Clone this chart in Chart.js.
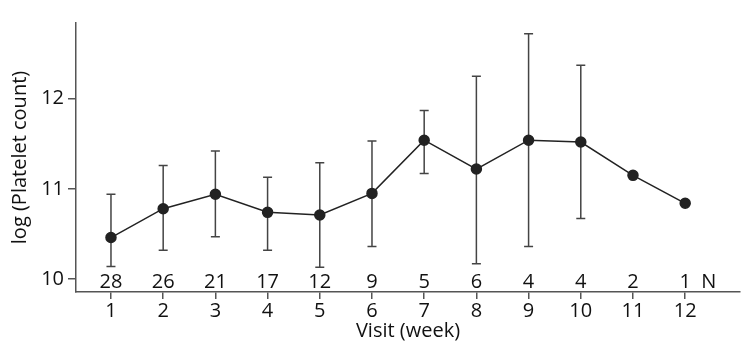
<!DOCTYPE html>
<html>
<head>
<title>Platelet count by visit</title>
<script src="https://cdn.jsdelivr.net/npm/chart.js@4.4.0/dist/chart.umd.min.js"></script>
<style>
  body { margin: 0; background: #fff; }
  #wrap { width: 750px; height: 353px; }
</style>
</head>
<body>
<div id="wrap"><canvas id="myChart"></canvas></div>
<script>
// data
var visits = [1, 2, 3, 4, 5, 6, 7, 8, 9, 10, 11, 12];
var means  = [10.46, 10.78, 10.94, 10.74, 10.71, 10.95, 11.54, 11.22, 11.54, 11.52, 11.15, 10.84];
var upper  = [10.94, 11.26, 11.42, 11.13, 11.29, 11.53, 11.87, 12.25, 12.72, 12.37, null, null];
var lower  = [10.14, 10.32, 10.47, 10.32, 10.13, 10.36, 11.17, 10.17, 10.36, 10.67, null, null];
var counts = [28, 26, 21, 17, 12, 9, 5, 6, 4, 4, 2, 1];
var yTicks = [10, 11, 12];

var fontFamily = "'Open Sans', 'Noto Sans', sans-serif";

var points = visits.map(function (v, i) { return { x: v, y: means[i] }; });

// whiskers and the N row, drawn through the chart scales
var extras = {
  id: 'extras',
  beforeDatasetsDraw: function (chart) {
    var ctx = chart.ctx, xs = chart.scales.x, ys = chart.scales.y;
    ctx.save();
    ctx.strokeStyle = '#444';
    ctx.lineWidth = 1.5;
    for (var i = 0; i < visits.length; i++) {
      if (upper[i] == null) continue;
      var px = xs.getPixelForValue(visits[i]);
      var top = ys.getPixelForValue(upper[i]);
      var bot = ys.getPixelForValue(lower[i]);
      ctx.beginPath();
      ctx.moveTo(px, top); ctx.lineTo(px, bot);
      ctx.moveTo(px - 4.5, top); ctx.lineTo(px + 4.5, top);
      ctx.moveTo(px - 4.5, bot); ctx.lineTo(px + 4.5, bot);
      ctx.stroke();
    }
    ctx.restore();
  },
  afterDraw: function (chart) {
    var ctx = chart.ctx, xs = chart.scales.x;
    var y = chart.chartArea.bottom - 10;
    ctx.save();
    ctx.fillStyle = '#111';
    ctx.font = '20px ' + fontFamily;
    ctx.textAlign = 'center';
    ctx.textBaseline = 'middle';
    for (var i = 0; i < visits.length; i++) {
      ctx.fillText(String(counts[i]), xs.getPixelForValue(visits[i]), y);
    }
    ctx.fillText('N', xs.getPixelForValue(12.45), y);
    ctx.restore();
  }
};

var ctx = document.getElementById('myChart').getContext('2d');
var chart = new Chart(ctx, {
  type: 'line',
  data: {
    datasets: [{
      label: 'log (Platelet count)',
      data: points,
      borderColor: '#222',
      borderWidth: 1.5,
      backgroundColor: '#222',
      pointBackgroundColor: '#222',
      pointBorderColor: '#222',
      pointRadius: 5,
      fill: false,
      tension: 0
    }]
  },
  options: {
    responsive: true,
    maintainAspectRatio: false,
    animation: false,
    layout: { padding: { top: 23, right: 10, left: 0, bottom: 0 } },
    plugins: {
      legend: { display: false },
      tooltip: { enabled: false }
    },
    scales: {
      x: {
        type: 'linear',
        min: 0.33,
        max: 13.05,
        afterBuildTicks: function (scale) {
          scale.ticks = visits.map(function (v) { return { value: v }; });
        },
        afterFit: function (scale) { scale.height = 61; },
        grid: { display: true, drawOnChartArea: false, drawTicks: true, tickLength: 7, color: '#555', lineWidth: 1.5 },
        border: { display: true, color: '#555', width: 1.5 },
        ticks: { color: '#111', padding: 0, font: { family: fontFamily, size: 20 } },
        title: { display: true, text: 'Visit (week)', color: '#111', padding: { top: 0, bottom: 10 }, font: { family: fontFamily, size: 20 } }
      },
      y: {
        type: 'linear',
        min: 9.856,
        max: 12.84,
        afterBuildTicks: function (scale) {
          scale.ticks = yTicks.map(function (v) { return { value: v }; });
        },
        afterFit: function (scale) { scale.width = 76; },
        grid: { display: true, drawOnChartArea: false, drawTicks: true, tickLength: 8, color: '#555', lineWidth: 1.5 },
        border: { display: true, color: '#555', width: 1.5 },
        ticks: { color: '#111', padding: 4, font: { family: fontFamily, size: 20 } },
        title: { display: true, text: 'log (Platelet count)', color: '#111', padding: { top: 8, bottom: 0 }, font: { family: fontFamily, size: 20 } }
      }
    }
  },
  plugins: [extras]
});
</script>
</body>
</html>
